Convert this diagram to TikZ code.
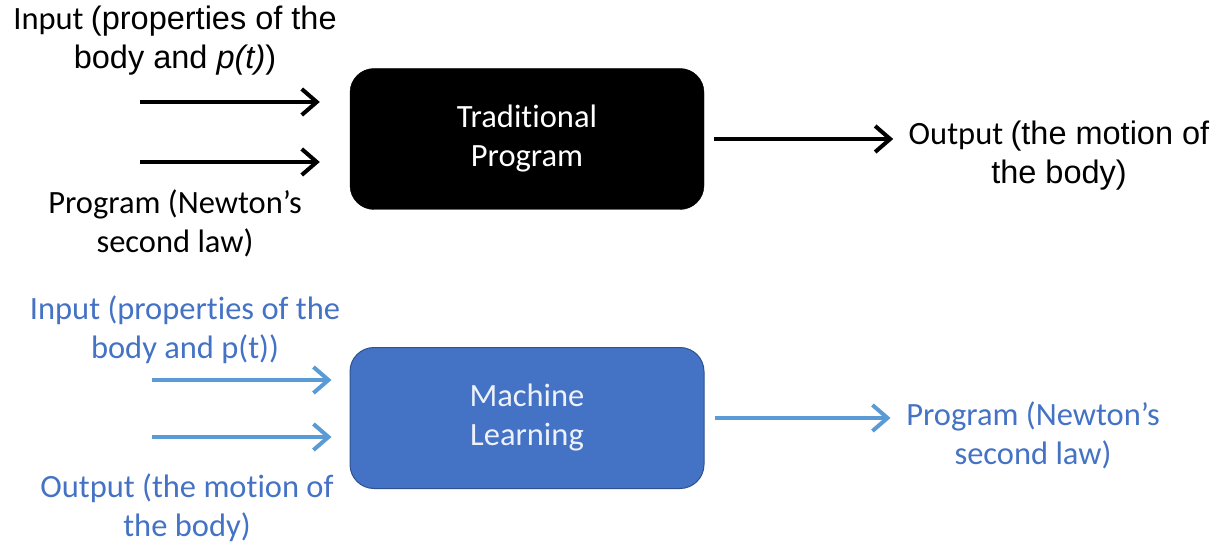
\documentclass[tikz,border=0pt]{standalone}
\usepackage{fontspec}
\setmainfont[Ligatures=NoCommon]{Carlito}
\newfontfamily\arialfont{Liberation Sans}
\usepackage{tikz}
\usetikzlibrary{arrows.meta,positioning,calc}
\definecolor{mlfill}{RGB}{68,114,196}
\definecolor{mledge}{RGB}{47,82,143}
\definecolor{mlarrow}{RGB}{91,155,213}
\definecolor{mltext}{RGB}{68,114,196}
\definecolor{mlwhite}{RGB}{236,241,250}
\newcommand{\lblfont}{\fontsize{32.5}{39}\selectfont}
\tikzset{
  blk/.style={
    rounded corners=24pt, minimum width=354pt, minimum height=141pt,
    align=center, inner sep=0pt, font=\lblfont
  },
  trad/.style={blk, fill=black, draw=black, text=white},
  ml/.style={blk, fill=mlfill, draw=mledge, line width=1pt, text=mlwhite},
  lbl/.style={align=center, inner sep=0pt, font=\lblfont},
  mllbl/.style={lbl, text=mltext},
  arr/.style={-{Straight Barb[length=15pt,width=26pt]}, line width=4pt, draw=black},
  mlarr/.style={arr, draw=mlarrow}
}
\begin{document}
\begin{tikzpicture}[x=1pt, y=-1pt]
  \useasboundingbox (0,0) rectangle (1222,545);
  % traditional programming
  \node[trad] (tp) at (527,139) {Traditional\\Program};
  \node[lbl] (tin) at (175,41) {Input {\arialfont(properties of the}\\{\arialfont body and \textit{p(t)})}};
  \node[lbl] (tprog) at (175,223) {Program (Newton’s\\second law)};
  \node[lbl] (tout) at (1059,156) {Output {\arialfont(the motion of}\\{\arialfont the body)}};
  \coordinate (t1) at (140,102);
  \coordinate (t2) at (140,162);
  \draw[arr, shorten >=30pt] (t1) -- (t1 -| tp.west);
  \draw[arr, shorten >=30pt] (t2) -- (t2 -| tp.west);
  \draw[arr, shorten <=10pt] (tp.east) -- ($(tp.east)+(189,0)$) coordinate (to);
  % machine learning
  \node[ml] (mlb) at (527,418) {Machine\\Learning};
  \node[mllbl] (min) at (185,330) {Input (properties of the\\body and p(t))};
  \node[mllbl] (mout) at (187,508) {Output (the motion of\\the body)};
  \node[mllbl] (mprog) at (1033,435) {Program (Newton’s\\second law)};
  \coordinate (m1) at (152,380);
  \coordinate (m2) at (152,437);
  \draw[mlarr, shorten >=18pt] (m1) -- (m1 -| mlb.west);
  \draw[mlarr, shorten >=18pt] (m2) -- (m2 -| mlb.west);
  \draw[mlarr, shorten <=10pt] (mlb.east) -- ($(mlb.east)+(186,0)$) coordinate (mo);
\end{tikzpicture}
\end{document}
